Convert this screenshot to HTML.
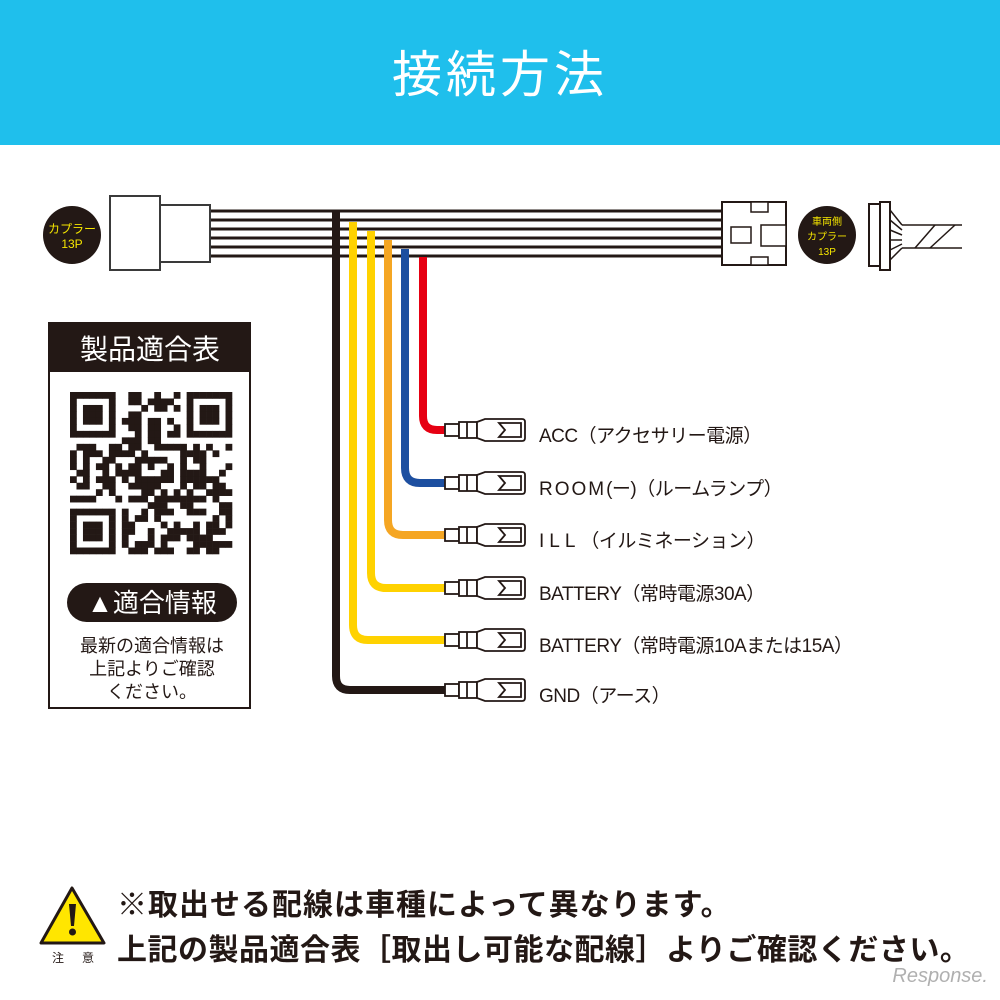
<!DOCTYPE html>
<html><head><meta charset="utf-8"><style>
body{margin:0;width:1000px;height:1000px;background:#fff;position:relative;overflow:hidden;font-family:"Liberation Sans","Noto Sans CJK JP",sans-serif}
.hdr{position:absolute;left:0;top:0;width:1000px;height:145px;background:#1fbfec;color:#fff;font-size:50px;text-align:center;line-height:150px;letter-spacing:4px}
.lbl{position:absolute;left:539px;font-size:19px;color:#231815;white-space:nowrap;letter-spacing:-0.5px}
.warn{position:absolute;left:117px;font-size:30px;font-weight:bold;color:#231815;white-space:nowrap;letter-spacing:0.5px}
</style></head><body>
<div class="hdr">接続方法</div>
<svg width="1000" height="1000" style="position:absolute;left:0;top:0">
<g stroke="#231815" stroke-width="3">
<line x1="210" y1="211" x2="722" y2="211"/><line x1="210" y1="220" x2="722" y2="220"/>
<line x1="210" y1="229" x2="722" y2="229"/><line x1="210" y1="238" x2="722" y2="238"/>
<line x1="210" y1="247" x2="722" y2="247"/><line x1="210" y1="256" x2="722" y2="256"/>
</g>
<rect x="110" y="196" width="50" height="74" fill="#fff" stroke="#3a3a3a" stroke-width="2"/>
<rect x="160" y="205" width="50" height="57" fill="#fff" stroke="#3a3a3a" stroke-width="2"/>
<circle cx="72" cy="235" r="29" fill="#231815"/>
<text x="72" y="233" fill="#f5e600" font-size="12" text-anchor="middle">カプラー</text>
<text x="72" y="248" fill="#f5e600" font-size="12" text-anchor="middle">13P</text>
<g fill="none" stroke-width="8">
<path d="M336 211 V676 Q336 690 350 690 H450" stroke="#231815"/>
<path d="M353 222 V625 Q353 640 368 640 H450" stroke="#ffd200"/>
<path d="M371 231 V573 Q371 588 386 588 H450" stroke="#ffd200"/>
<path d="M388 240 V520 Q388 535 403 535 H450" stroke="#f5a623"/>
<path d="M405 249 V468 Q405 483 420 483 H450" stroke="#1d4fa0"/>
<path d="M423 257 V416 Q423 430 437 430 H450" stroke="#e60012"/>
</g>
<defs><g id="term" fill="#fff" stroke="#231815" stroke-width="1.8">
<rect x="0" y="-6" width="14" height="12"/>
<rect x="14" y="-8" width="18" height="16"/>
<path d="M32 -8 L40 -11 H77 Q80 -11 80 -8 V8 Q80 11 77 11 H40 L32 8 Z"/>
<path d="M54 -7 H76 V7 H54 L60 0 Z" fill="none"/>
<line x1="22" y1="-8" x2="22" y2="8"/>
</g></defs>
<use href="#term" x="445" y="430"/><use href="#term" x="445" y="483"/>
<use href="#term" x="445" y="535"/><use href="#term" x="445" y="588"/>
<use href="#term" x="445" y="640"/><use href="#term" x="445" y="690"/>
<rect x="722" y="202" width="64" height="63" fill="#fff" stroke="#231815" stroke-width="2"/>
<rect x="731" y="227" width="20" height="16" fill="#fff" stroke="#231815" stroke-width="1.5"/>
<rect x="761" y="225" width="25" height="21" fill="#fff" stroke="#231815" stroke-width="1.5"/>
<rect x="751" y="202" width="17" height="10" fill="#fff" stroke="#231815" stroke-width="1.5"/>
<rect x="751" y="257" width="17" height="8" fill="#fff" stroke="#231815" stroke-width="1.5"/>
<circle cx="827" cy="235" r="29" fill="#231815"/>
<text x="827" y="225" fill="#f5e600" font-size="10" text-anchor="middle">車両側</text>
<text x="827" y="240" fill="#f5e600" font-size="10" text-anchor="middle">カプラー</text>
<text x="827" y="255" fill="#f5e600" font-size="10" text-anchor="middle">13P</text>
<rect x="869" y="204" width="11" height="62" fill="#fff" stroke="#231815" stroke-width="2"/>
<rect x="880" y="202" width="10" height="68" fill="#fff" stroke="#231815" stroke-width="2"/>
<g stroke="#231815" stroke-width="1.5" fill="none">
<path d="M890 210 L902 225 M890 220 L902 230 M890 230 L902 235 M890 240 L902 240 M890 250 L902 244 M890 260 L902 248"/>
<line x1="902" y1="225" x2="962" y2="225"/><line x1="902" y1="248" x2="962" y2="248"/>
<line x1="915" y1="248" x2="935" y2="225"/><line x1="930" y1="248" x2="955" y2="225"/>
</g>
<rect x="49" y="323" width="201" height="385" fill="#fff" stroke="#231815" stroke-width="2"/>
<rect x="49" y="323" width="201" height="49" fill="#231815"/>
<text x="150" y="359" fill="#fff" font-size="28" text-anchor="middle">製品適合表</text>
<g id="qr" fill="#231815"></g>
<rect x="67" y="583" width="170" height="39" rx="19.5" fill="#231815"/>
<text x="152" y="612" fill="#fff" font-size="26" text-anchor="middle">▲適合情報</text>
<text x="152" y="652" fill="#231815" font-size="18" text-anchor="middle">最新の適合情報は</text>
<text x="152" y="675" fill="#231815" font-size="18" text-anchor="middle">上記よりご確認</text>
<text x="152" y="698" fill="#231815" font-size="18" text-anchor="middle">ください。</text>
<path d="M72 888 L104 943 H41 Z" fill="#ffe600" stroke="#231815" stroke-width="3" stroke-linejoin="round"/>
<path d="M69 904 H76 L74 926 H71 Z" fill="#231815"/><circle cx="72.5" cy="932" r="3.5" fill="#231815"/>
<text x="52" y="962" font-size="12" fill="#231815">注</text>
<text x="82" y="962" font-size="12" fill="#231815">意</text>
<text x="988" y="982" font-size="20" font-style="italic" fill="#b0b0b0" text-anchor="end">Response.</text>
</svg>
<div class="lbl" style="top:421px">ACC（アクセサリー電源）</div>
<div class="lbl" style="top:474px"><span style="letter-spacing:2px">ROOM</span>(ー)（ルームランプ）</div>
<div class="lbl" style="top:526px"><span style="letter-spacing:5px">ILL</span>（イルミネーション）</div>
<div class="lbl" style="top:579px">BATTERY（常時電源30A）</div>
<div class="lbl" style="top:631px">BATTERY（常時電源10Aまたは15A）</div>
<div class="lbl" style="top:681px">GND（アース）</div>
<div class="warn" style="top:880px;letter-spacing:1px">※取出せる配線は車種によって異なります。</div>
<div class="warn" style="top:925px">上記の製品適合表［取出し可能な配線］よりご確認ください。</div>
<script>
(function(){var g=document.getElementById('qr'),N=25,s=162/N,x0=70,y0=392,seed=7,h='';
function r(){seed=(seed*1103515245+12345)%2147483648;return seed/2147483648;}
function f(i,j,a,b){var di=i-a,dj=j-b;if(di<0||dj<0||di>6||dj>6)return -1;if(di==0||dj==0||di==6||dj==6)return 1;if(di>=2&&di<=4&&dj>=2&&dj<=4)return 1;return 0;}
for(var i=0;i<N;i++)for(var j=0;j<N;j++){var v=-1,fs=[[0,0],[0,18],[18,0]];
for(var k=0;k<3;k++){var t=f(i,j,fs[k][0],fs[k][1]);if(t>=0)v=t;}
if(v<0){if((i==7&&(j<8||j>16))||(j==7&&(i<8||i>16))||(i==17&&j<8)||(j==17&&i<8))v=0;else v=r()<0.55?1:0;}
if(v)h+='<rect x="'+(x0+j*s)+'" y="'+(y0+i*s)+'" width="'+(s+0.3)+'" height="'+(s+0.3)+'"/>';}
g.innerHTML=h;})();
</script>
</body></html>
